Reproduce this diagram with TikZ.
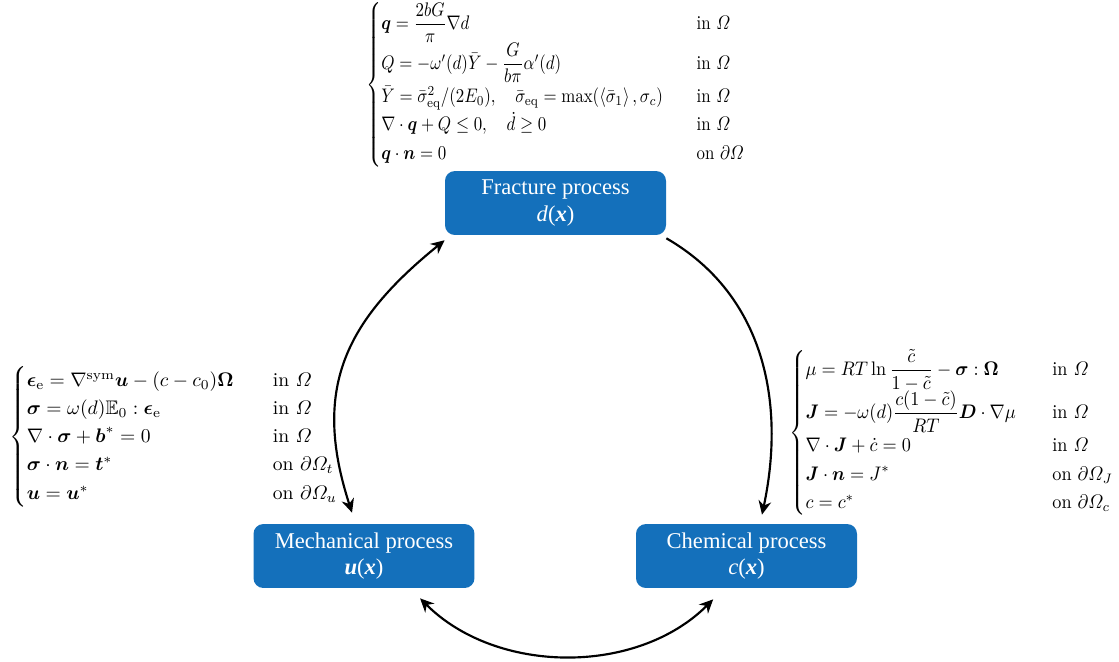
\documentclass[tikz,border=0pt]{standalone}
\usepackage{amsmath, amssymb}
\usepackage[no-math]{fontspec}
\newfontfamily\boxfont{Liberation Serif}
\usetikzlibrary{arrows.meta}
\definecolor{procblue}{RGB}{20,112,187}

\tikzset{
  process/.style={fill=procblue, rounded corners=5pt, text=white,
    font=\boxfont\fontsize{11.5}{13.5}\selectfont, align=center,
    minimum width=112.7pt, minimum height=32.6pt, inner sep=0pt},
  coupling/.style={line width=1.1pt, {Stealth[length=7pt,width=6.5pt]}-{Stealth[length=7pt,width=6.5pt]}},
  oneway/.style={line width=1.1pt, -{Stealth[length=7pt,width=6.5pt]}},
  system/.style={inner sep=0pt, anchor=west}
}

\begin{document}
\begin{tikzpicture}[x=0.51pt, y=-0.51pt]
  \useasboundingbox (0,0) rectangle (1119,661);
  % the three processes
  \node[process] (frac) at (555.5,203)
    {Fracture process\\ \textit{d}(\textbf{\textit{x}})};
  \node[process] (mech) at (364,556)
    {Mechanical process\\ \textbf{\textit{u}}(\textbf{\textit{x}})};
  \node[process] (chem) at (746.5,556)
    {Chemical process\\ \textit{c}(\textbf{\textit{x}})};
  % governing equations of each process
  \node[system] (fraceq) at (366,85) {\scalebox{0.86}[1]{$\begin{cases}
      \boldsymbol{q} = \dfrac{2bG}{\pi}\nabla d
        & \quad\text{in } \varOmega\\
      Q = -\omega'(d)\bar{Y} - \dfrac{G}{b\pi}\alpha'(d)
        & \quad\text{in } \varOmega\\
      \bar{Y} = \bar{\sigma}_{\mathrm{eq}}^2/(2E_0), \quad
      \bar{\sigma}_{\mathrm{eq}} = \max(\langle\bar{\sigma}_1\rangle\,, \sigma_c)
        & \quad\text{in } \varOmega\\
      \nabla\cdot\boldsymbol{q} + Q \le 0, \quad \dot{d} \ge 0
        & \quad\text{in } \varOmega\\
      \boldsymbol{q}\cdot\boldsymbol{n} = 0
        & \quad\text{on } \partial\varOmega
    \end{cases}$}};
  \node[system] (mecheq) at (9,437) {$\begin{cases}
      \boldsymbol{\epsilon}_{\mathrm{e}} = \nabla^{\mathrm{sym}}\boldsymbol{u}
        - (c-c_0)\boldsymbol{\Omega}
        & \quad\text{in } \varOmega\\
      \boldsymbol{\sigma} = \omega(d)\mathbb{E}_0 : \boldsymbol{\epsilon}_{\mathrm{e}}
        & \quad\text{in } \varOmega\\
      \nabla\cdot\boldsymbol{\sigma} + \boldsymbol{b}^* = 0
        & \quad\text{in } \varOmega\\
      \boldsymbol{\sigma}\cdot\boldsymbol{n} = \boldsymbol{t}^*
        & \quad\text{on } \partial\varOmega_t\\
      \boldsymbol{u} = \boldsymbol{u}^*
        & \quad\text{on } \partial\varOmega_u
    \end{cases}$};
  \node[system] (chemeq) at (789,433) {\scalebox{0.93}[1]{$\begin{cases}
      \mu = RT\ln\dfrac{\tilde{c}}{1-\tilde{c}}
        - \boldsymbol{\sigma}:\boldsymbol{\Omega}
        & \quad\text{in } \varOmega\\
      \boldsymbol{J} = -\omega(d)\dfrac{c(1-\tilde{c})}{RT}
        \boldsymbol{D}\cdot\nabla\mu
        & \quad\text{in } \varOmega\\
      \nabla\cdot\boldsymbol{J} + \dot{c} = 0
        & \quad\text{in } \varOmega\\
      \boldsymbol{J}\cdot\boldsymbol{n} = J^*
        & \quad\text{on } \partial\varOmega_J\\
      c = c^*
        & \quad\text{on } \partial\varOmega_c
    \end{cases}$}};
  % couplings
  \draw[oneway] ([yshift=-1.5pt]frac.south east)
    .. controls +(-30:58pt) and +(78:58pt) ..
    ([xshift=7.9pt,yshift=4.6pt]chem.north);
  \draw[coupling] ([xshift=-6.1pt,yshift=5.6pt]mech.north)
    .. controls +(108:66pt) and +(219:66pt) ..
    ([yshift=-2.5pt]frac.south west);
  \draw[coupling] ([xshift=28.6pt,yshift=-5.1pt]mech.south)
    .. controls +(-45:55pt) and +(-135:55pt) ..
    ([xshift=-17pt,yshift=-5.6pt]chem.south);
\end{tikzpicture}
\end{document}
